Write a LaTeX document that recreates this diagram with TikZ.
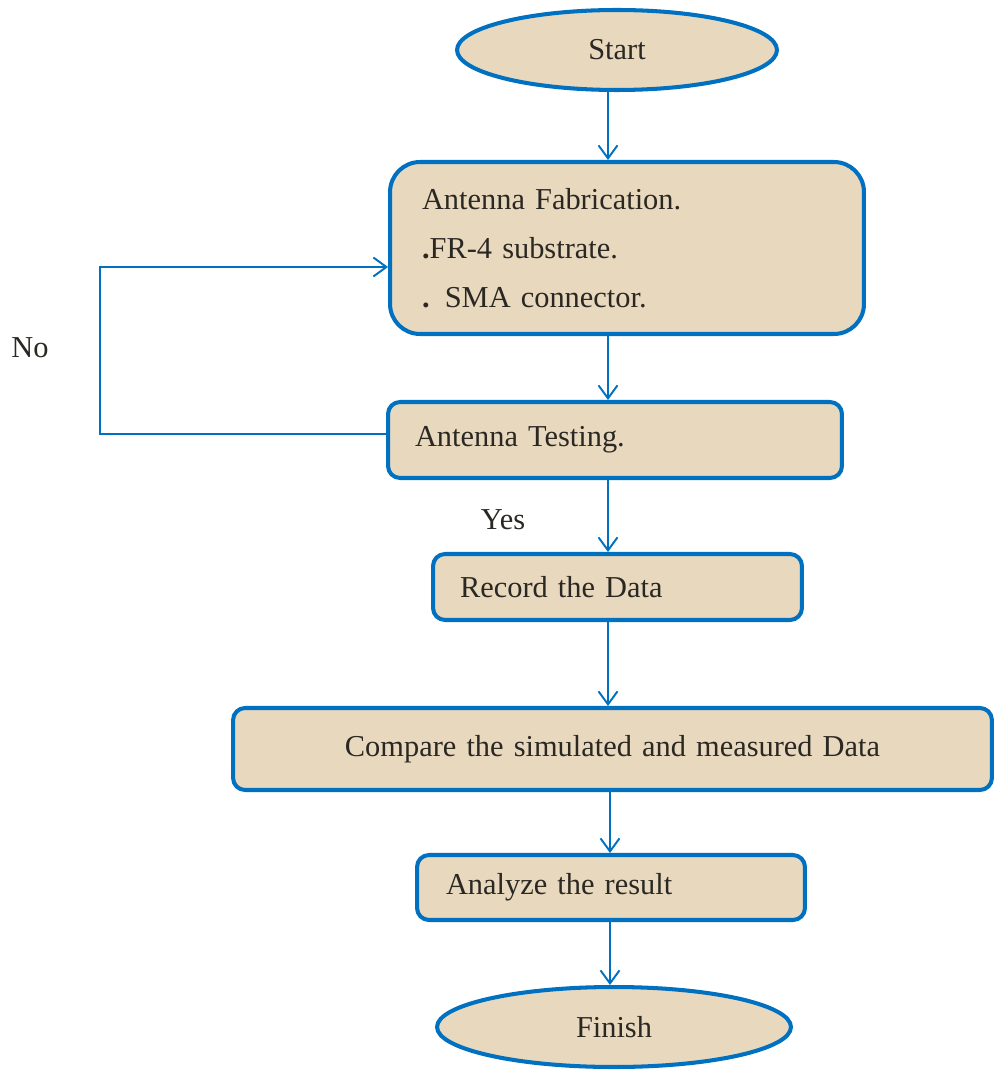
\documentclass[tikz,border=0pt]{standalone}
\usepackage{fontspec}
\setmainfont{Liberation Serif}
\usetikzlibrary{calc,arrows.meta,shapes.geometric}
\definecolor{flowblue}{HTML}{0070C0}
\definecolor{flowfill}{HTML}{E8D9BE}
\definecolor{flowtext}{HTML}{2B2823}
\newcommand{\flowfont}{\fontsize{17.3}{27.8}\selectfont\spaceskip 3.2pt plus 1pt minus 0.5pt\relax}
\tikzstyle{term}=[shape=ellipse, draw=flowblue, line width=2.3pt, fill=flowfill, text=flowtext, inner sep=0]
\tikzstyle{proc}=[shape=rectangle, draw=flowblue, line width=2.3pt, fill=flowfill, text=flowtext, rounded corners=0.24cm, align=left, inner ysep=0]
\tikzstyle{arr}=[draw=flowblue, line width=1.1pt, -{Straight Barb[length=0.26cm,width=0.38cm,line width=1.1pt]}]
\tikzstyle{lbl}=[text=flowtext, inner sep=0]

\begin{document}
\begin{tikzpicture}[x=0.02cm, y=-0.02cm, font=\flowfont]
\useasboundingbox (0,0) rectangle (994,1074);
\draw (617,50) node[term, minimum width=6.4cm, minimum height=1.6cm] (start) {Start};
%
\draw (627,248) node[proc, rounded corners=0.6cm, minimum width=9.48cm, minimum height=3.44cm, text width=8.2cm, inner xsep=0.64cm] (fab) {Antenna Fabrication.\\\textbf{.}FR-4 substrate.\\\textbf{.} SMA connector.};
\draw (615,440) node[proc, minimum width=9.08cm, minimum height=1.52cm, text width=8.0cm, inner xsep=0.54cm] (test) {Antenna Testing.};
\draw (617.5,587) node[proc, minimum width=7.38cm, minimum height=1.32cm, text width=6.3cm, inner xsep=0.54cm] (rec) {Record the Data};
\draw (612.5,749) node[proc, align=center, minimum width=15.18cm, minimum height=1.64cm, text width=14cm] (comp) {Compare the simulated and measured Data};
\draw (611,887.5) node[proc, minimum width=7.76cm, minimum height=1.3cm, text width=6.6cm, inner xsep=0.56cm] (anal) {Analyze the result};
%
\draw (614,1027) node[term, minimum width=7.08cm, minimum height=1.6cm] (fin) {Finish};
%
\draw (30,348) node[lbl] (no) {No};
\draw (503,520) node[lbl] (yes) {Yes};
\coordinate (sp) at (608,0);
\coordinate (sq) at (610,0);
\coordinate (loop) at (100,0);
%
\draw[arr] (start.south -| sp) -- (fab.north -| sp);
\draw[arr] (fab.south -| sp) -- (test.north -| sp);
\draw[arr] (test.south -| sp) -- (rec.north -| sp);
\draw[arr] (rec.south -| sp) -- (comp.north -| sp);
\draw[arr] (comp.south -| sq) -- (anal.north -| sq);
\draw[arr] (anal.south -| sq) -- (fin.north -| sq);
\draw[arr, rounded corners=0] ([yshift=0.12cm]test.west) -- ([yshift=0.12cm]test.west -| loop) |- ([yshift=-0.38cm]fab.west);
\end{tikzpicture}
\end{document}
